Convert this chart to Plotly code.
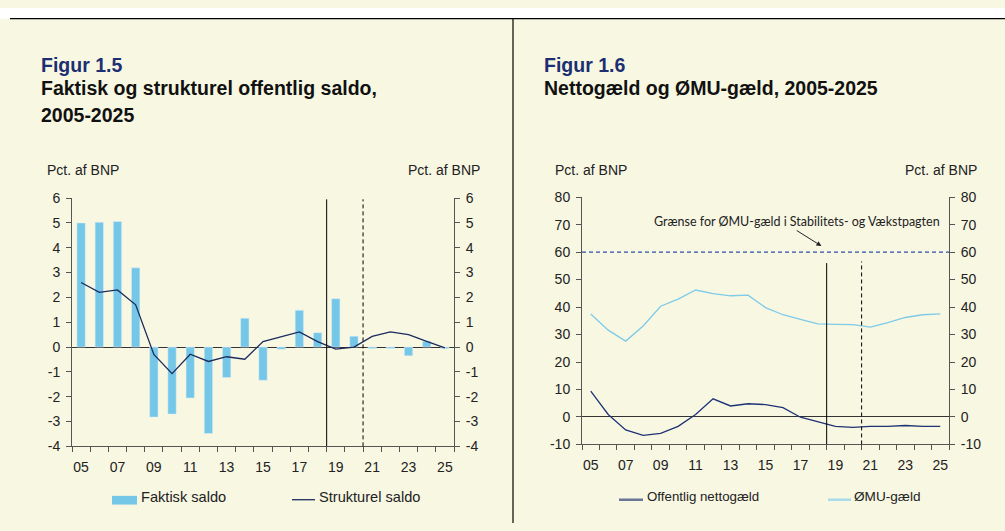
import plotly.graph_objects as go

# Data
years = list(range(2005, 2026))
tick_years = list(range(2005, 2026, 2))
tick_labels = [f"{y % 100:02d}" for y in tick_years]

left_ticks = list(range(-4, 7))
right_ticks = list(range(-10, 81, 10))

faktisk_saldo = [5.0, 5.03, 5.06, 3.19, -2.82, -2.7, -2.05, -3.48, -1.23, 1.16, -1.34,
                 -0.09, 1.48, 0.58, 1.95, 0.44, -0.06, -0.06, -0.35, 0.23, -0.06]
strukturel_saldo = [2.6, 2.2, 2.3, 1.7, -0.3, -1.07, -0.29, -0.58, -0.39, -0.49, 0.22,
                    0.42, 0.61, 0.22, -0.08, 0.0, 0.43, 0.61, 0.5, 0.23, -0.03]
nettogaeld = [9.4, 0.9, -4.7, -6.7, -6.0, -3.4, 0.9, 6.6, 4.0, 4.8, 4.5,
              3.4, -0.1, -1.8, -3.4, -3.8, -3.4, -3.4, -3.1, -3.4, -3.4]
emu_gaeld = [37.5, 31.6, 27.6, 33.1, 40.3, 42.9, 46.2, 44.9, 44.1, 44.3, 39.8,
             37.2, 35.5, 33.9, 33.7, 33.6, 32.7, 34.3, 36.2, 37.2, 37.5]
emu_graense = 60

BG = "#F8F7E2"
AXIS = "#555555"
FONT = "Liberation Sans"
W, H = 1005, 531


def px_x(x):
    return x / W


def px_y(y):
    return 1 - y / H


fig = go.Figure()

fig.add_trace(go.Bar(x=years, y=faktisk_saldo, marker_color="#74C7E7", width=0.46,
                     xaxis="x", yaxis="y", showlegend=False))
fig.add_trace(go.Scatter(x=years, y=strukturel_saldo, mode="lines",
                         line=dict(color="#1A2B5E", width=1.3),
                         xaxis="x", yaxis="y3", showlegend=False))
fig.add_trace(go.Scatter(x=years, y=emu_gaeld, mode="lines",
                         line=dict(color="#7DCBE8", width=1.3),
                         xaxis="x2", yaxis="y4", showlegend=False))
fig.add_trace(go.Scatter(x=years, y=nettogaeld, mode="lines",
                         line=dict(color="#1E3375", width=1.3),
                         xaxis="x2", yaxis="y2", showlegend=False))

tickfont = dict(family=FONT, size=14, color="#222222")
xcommon = dict(range=[2004.5, 2025.5], tickmode="array", tickvals=tick_years,
               ticktext=tick_labels, ticks="", ticklabelstandoff=8,
               showline=True, linecolor=AXIS,
               showgrid=False, zeroline=False, tickfont=tickfont,
               minor=dict(tickmode="linear", tick0=2004.5, dtick=1, ticks="outside",
                          ticklen=5, tickcolor=AXIS, showgrid=False))
ycommon = dict(showline=True, linecolor=AXIS, ticks="outside", ticklen=5,
               tickcolor=AXIS, showgrid=False, tickfont=tickfont, tickmode="array",
               ticklabelstandoff=3)

left_ax = dict(range=[-4, 6], tickvals=left_ticks, ticktext=[str(v) for v in left_ticks])
right_ax = dict(range=[-10, 80], tickvals=right_ticks, ticktext=[str(v) for v in right_ticks])

left_dom = [px_x(72), px_x(454)]
right_dom = [px_x(582), px_x(949)]

fig.update_layout(
    width=W, height=H,
    margin=dict(l=0, r=0, t=0, b=0),
    paper_bgcolor=BG, plot_bgcolor=BG,
    bargap=0.54,
    xaxis=dict(domain=left_dom, anchor="y", **xcommon),
    yaxis=dict(domain=[px_y(452), px_y(196)], anchor="x",
               zeroline=True, zerolinecolor="#333333", zerolinewidth=1, **left_ax, **ycommon),
    yaxis3=dict(overlaying="y", side="right", anchor="x", zeroline=False, **left_ax, **ycommon),
    xaxis2=dict(domain=right_dom, anchor="y2", **xcommon),
    yaxis2=dict(domain=[px_y(450), px_y(195)], anchor="x2",
                zeroline=True, zerolinecolor="#333333", zerolinewidth=1, **right_ax, **ycommon),
    yaxis4=dict(overlaying="y2", side="right", anchor="x2", zeroline=False, **right_ax, **ycommon),
)

shapes = [
    # page frame
    dict(type="rect", xref="paper", yref="paper", x0=0, x1=1, y0=px_y(11), y1=1,
         fillcolor="white", line_width=0, layer="below"),
    dict(type="line", xref="paper", yref="paper", x0=px_x(10), x1=1,
         y0=px_y(11), y1=px_y(11), line=dict(color="black", width=1.2)),
    dict(type="line", xref="paper", yref="paper", x0=px_x(513), x1=px_x(513),
         y0=0, y1=px_y(11), line=dict(color="black", width=1.2)),
    # forecast markers, left chart
    dict(type="line", xref="x", yref="y", x0=2018.5, x1=2018.5, y0=-4, y1=5.95,
         line=dict(color="black", width=1)),
    dict(type="line", xref="x", yref="y", x0=2020.5, x1=2020.5, y0=-4, y1=5.95,
         line=dict(color="black", width=1, dash="4px,3px")),
    # forecast markers, right chart
    dict(type="line", xref="x2", yref="y2", x0=2018.5, x1=2018.5, y0=-10, y1=56,
         line=dict(color="black", width=1)),
    dict(type="line", xref="x2", yref="y2", x0=2020.5, x1=2020.5, y0=-10, y1=56.6,
         line=dict(color="black", width=1, dash="4px,3px")),
    # EMU debt limit
    dict(type="line", xref="x2", yref="y2", x0=2004.5, x1=2025.5,
         y0=emu_graense, y1=emu_graense,
         line=dict(color="#2F4FA8", width=1.3, dash="4px,3px")),
    # legend keys
    dict(type="rect", xref="paper", yref="paper", x0=px_x(112), x1=px_x(137),
         y0=px_y(512), y1=px_y(503), fillcolor="#74C7E7", line_width=0),
    dict(type="line", xref="paper", yref="paper", x0=px_x(292), x1=px_x(315),
         y0=px_y(507), y1=px_y(507), line=dict(color="#1A2B5E", width=1.3)),
    dict(type="line", xref="paper", yref="paper", x0=px_x(619), x1=px_x(643),
         y0=px_y(507), y1=px_y(507), line=dict(color="#6B7895", width=2.5)),
    dict(type="line", xref="paper", yref="paper", x0=px_x(828), x1=px_x(851),
         y0=px_y(507), y1=px_y(507), line=dict(color="#A9DCE8", width=2.5)),
]
fig.update_layout(shapes=shapes)


def txt(x, y, text, size=14.5, color="#222222", anchor="left", bold=False):
    if bold:
        text = f"<b>{text}</b>"
    return dict(xref="paper", yref="paper", x=px_x(x), y=px_y(y), text=text,
                showarrow=False, xanchor=anchor, yanchor="middle",
                font=dict(family=FONT, size=size, color=color))


navy = "#1B2F72"
annotations = [
    txt(39, 59, "Figur 1.5", size=19.5, color=navy, bold=True),
    txt(39, 83, "Faktisk og strukturel offentlig saldo,", size=19.5, color="#111111", bold=True),
    txt(39, 110, "2005-2025", size=19.5, color="#111111", bold=True),
    txt(542, 59, "Figur 1.6", size=19.5, color=navy, bold=True),
    txt(542, 83, "Nettogæld og ØMU-gæld, 2005-2025", size=19.5, color="#111111", bold=True),
    txt(45, 167, "Pct. af BNP", size=14),
    txt(482, 167, "Pct. af BNP", size=14, anchor="right"),
    txt(553, 167, "Pct. af BNP", size=14),
    txt(979, 167, "Pct. af BNP", size=14, anchor="right"),
    txt(139, 504, "Faktisk saldo", size=14.6),
    txt(317, 504, "Strukturel saldo", size=14.6),
    txt(645, 504, "Offentlig nettogæld", size=13.3),
    txt(852, 504, "ØMU-gæld", size=13.6),
    dict(xref="x2", yref="y2", x=2016.8, y=71.1, showarrow=False,
         text="Grænse for ØMU-gæld i Stabilitets- og Vækstpagten",
         font=dict(family="Lato", size=12.5, color="#222222")),
    dict(xref="x2", yref="y2", x=2018.2, y=62.2, ax=2016.7, ay=68.2,
         axref="x2", ayref="y2", text="", showarrow=True, arrowhead=2,
         arrowsize=1, arrowwidth=1, arrowcolor="#222222"),
]
fig.update_layout(annotations=annotations)

# the page body has a default 8px margin; remove it so the figure fills the window
fig.write_html("out.html", config={"displayModeBar": False},
               post_script="document.body.style.margin='0';")
